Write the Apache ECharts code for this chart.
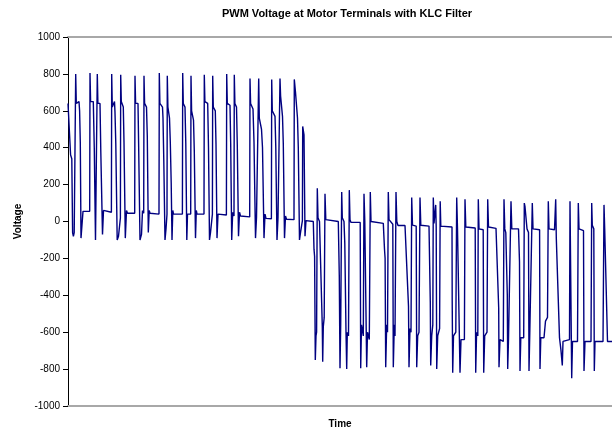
<!DOCTYPE html>
<html>
<head>
<meta charset="utf-8">
<script src="https://cdn.jsdelivr.net/npm/echarts@6/dist/echarts.min.js"></script>
<style>
html,body{margin:0;padding:0;background:#fff;}
#chart{width:612px;height:434px;}
</style>
</head>
<body>
<div id="chart"></div>
<script>
// Time (arbitrary units) and voltage samples
const time = [
0,0.5,2.0,2.6,3.8,4.6,5.4,6.2,7.7,8.3,11.0,11.6,12.3,13.0,14.0,15.0,
21.7,22.0,22.6,25.3,26.3,27.5,28.8,29.3,29.9,32.0,32.8,34.5,35.5,36.5,
43.4,43.7,44.3,46.5,47.0,47.8,49.2,50.5,52.4,52.7,53.3,55.3,56.0,57.3,58.5,59.5,
66.7,67.0,67.6,70.0,70.6,72.0,73.5,74.5,75.7,76.0,76.6,78.5,79.3,80.3,81.2,82.0,
91.0,91.3,91.9,94.5,95.0,95.8,97.0,98.0,99.0,99.3,99.9,101.5,102.3,103.2,104.0,104.8,105.5,
114.4,114.7,115.3,117.0,117.8,118.8,119.5,122.7,123.0,123.6,125.5,126.3,127.5,128.3,129.0,
136.0,136.3,136.9,139.7,140.5,141.5,142.5,144.4,144.7,145.3,147.3,148.0,149.0,150.0,
158.4,158.7,159.3,162.0,162.7,163.7,164.7,166.0,166.3,166.9,168.5,169.3,170.5,171.5,172.5,
181.7,182.0,182.6,185.0,186.0,187.5,188.5,190.4,190.7,191.3,193.5,194.5,196.0,197.0,198.0,
203.4,203.7,204.3,207.0,207.8,209.0,210.0,211.7,212.0,212.6,214.5,215.3,216.5,217.5,218.5,
226.0,226.3,226.8,227.5,229.5,230.3,231.5,232.5,234.4,234.7,236.0,237.0,238.0,
245.3,246.0,246.6,247.3,248.0,248.6,249.3,250.0,251.5,254.3,254.7,255.3,256.2,257.0,257.8,259.0,
270.3,271.3,272.0,272.7,273.7,274.3,276.0,276.8,278.0,278.7,279.3,280.5,281.3,282.0,283.0,
292.2,292.7,293.5,295.3,296.0,296.8,298.2,298.7,299.5,301.3,302.3,303.0,304.0,
315.3,316.5,317.1,317.7,318.7,319.5,320.3,321.0,324.8,325.3,326.3,327.0,328.0,328.8,330.0,
337.0,340.5,341.0,342.0,343.0,343.7,344.5,348.2,348.7,349.7,351.0,352.0,352.8,354.0,
361.0,362.3,362.7,363.7,364.8,365.3,366.0,367.7,368.2,368.7,369.7,371.6,372.2,372.8,374.0,
384.0,384.2,384.7,385.5,387.8,388.7,389.5,391.5,392.0,393.0,396.4,397.0,397.8,399.0,
407.2,407.7,408.6,409.8,410.3,411.0,415.2,415.7,416.7,419.0,419.7,420.5,422.0,
428.0,430.7,431.0,432.0,435.3,436.0,436.8,437.8,439.3,439.7,440.5,442.4,443.0,443.8,444.5,
450.5,451.5,452.0,452.8,455.7,456.3,457.0,459.0,460.5,461.0,461.8,463.7,464.3,465.0,466.0,
471.6,472.0,472.8,476.0,477.5,479.5,480.3,481.0,486.5,487.7,488.3,491.5,493.0,494.3,495.0,
501.5,502.0,503.7,504.5,509.5,510.3,511.0,515.5,516.0,517.0,523.0,523.7,524.3,525.8,526.3,527.0,
535.0,536.0,536.7,538.5,539.5,544.0
];
const voltage = [
640,650,650,360,340,-60,-80,-60,800,640,650,600,430,-90,-80,55,
55,805,650,650,390,-100,-90,800,640,640,380,-70,60,50,
50,800,620,650,590,420,-100,-80,20,795,650,620,430,-90,60,45,
45,790,640,640,430,-100,-70,60,45,790,640,620,460,-60,60,45,
40,805,640,620,560,330,-100,-40,40,790,620,560,430,210,-100,60,40,
40,805,640,620,420,-100,40,40,790,600,550,380,-90,60,40,
40,795,650,640,400,-100,-60,40,790,620,600,420,-90,40,
35,800,640,630,420,-100,50,30,795,640,620,410,-80,50,30,
25,775,640,610,430,-90,20,20,775,560,500,400,-90,40,17,
15,770,600,570,400,-100,20,15,775,680,570,420,-90,30,12,
10,770,760,700,560,400,-100,-60,5,515,470,-80,5,
0,-150,-190,-750,-620,-600,180,20,0,-570,-760,-570,-520,150,10,0,
0,-300,-795,-560,160,20,0,-120,-600,-800,-600,-620,170,10,-5,
-5,-795,-560,-620,150,0,-10,-790,-600,-640,160,0,-10,
-10,-150,-200,-790,-560,-600,160,10,-15,-790,-560,-620,160,0,-22,
-22,-460,-790,-580,-600,130,-20,-25,-790,-620,-600,130,-20,-25,
-25,-440,-780,-620,-560,130,-10,90,-30,-800,-620,-580,110,-25,-30,
-30,-430,-820,-620,-600,130,-40,-50,-820,-640,-640,120,-30,-35,
-35,-820,-600,-620,120,-40,-45,-820,-620,-600,120,-30,-37,
-37,-470,-790,-640,-650,120,-40,-60,-400,-800,-640,-640,110,-40,-40,
-40,-220,-810,-630,-630,100,80,-40,-60,-810,-600,-610,100,-40,-45,
-45,-800,-630,-630,-540,-520,110,-40,-45,120,-90,-630,-700,-780,-650,
-640,110,-850,-650,-650,100,-40,-50,-810,-650,-650,100,-20,-40,-810,-650,
-650,90,-40,-40,-650,-650
];
const yTicks = {min: -1000, max: 1000, step: 200};
const titleText = 'PWM Voltage at Motor Terminals with KLC Filter';
const xName = 'Time';
const yName = 'Voltage';

const chart = echarts.init(document.getElementById('chart'), null, {renderer: 'canvas'});
const font = 'Liberation Sans, Arial, sans-serif';
chart.setOption({
  animation: false,
  backgroundColor: '#ffffff',
  title: {
    text: titleText,
    left: 342, top: 3, textAlign: 'center',
    textStyle: {fontFamily: font, fontSize: 11, fontWeight: 'bold', color: '#000'}
  },
  grid: {left: 68, right: 0, top: 37, bottom: 26, containLabel: false},
  xAxis: [{
    type: 'value', min: 0, max: 544, position: 'bottom',
    name: xName, nameLocation: 'middle', nameGap: 13,
    nameTextStyle: {fontFamily: font, fontSize: 10, fontWeight: 'bold', color: '#000'},
    axisLine: {show: true, onZero: false, lineStyle: {color: '#a8a8a8', width: 2}},
    axisTick: {show: false}, axisLabel: {show: false}, splitLine: {show: false}
  }, {
    type: 'value', min: 0, max: 544, position: 'top',
    axisLine: {show: true, onZero: false, lineStyle: {color: '#a8a8a8', width: 2}},
    axisTick: {show: false}, axisLabel: {show: false}, splitLine: {show: false}
  }],
  yAxis: {
    type: 'value', min: yTicks.min, max: yTicks.max, interval: yTicks.step,
    name: yName, nameLocation: 'middle', nameGap: 35, nameRotate: 90,
    nameTextStyle: {fontFamily: font, fontSize: 10, fontWeight: 'bold', color: '#000'},
    axisLine: {show: true, lineStyle: {color: '#000', width: 1}},
    axisTick: {show: true, inside: false, length: 5, lineStyle: {color: '#000'}},
    axisLabel: {fontFamily: font, fontSize: 10, color: '#000', margin: 8,
                formatter: v => String(v)},
    splitLine: {show: false}
  },
  series: [{
    type: 'line', xAxisIndex: 0,
    data: time.map((t, i) => [t, voltage[i]]),
    showSymbol: false, symbol: 'none',
    lineStyle: {color: '#000080', width: 1.4},
    z: 1
  }]
});
</script>
</body>
</html>
